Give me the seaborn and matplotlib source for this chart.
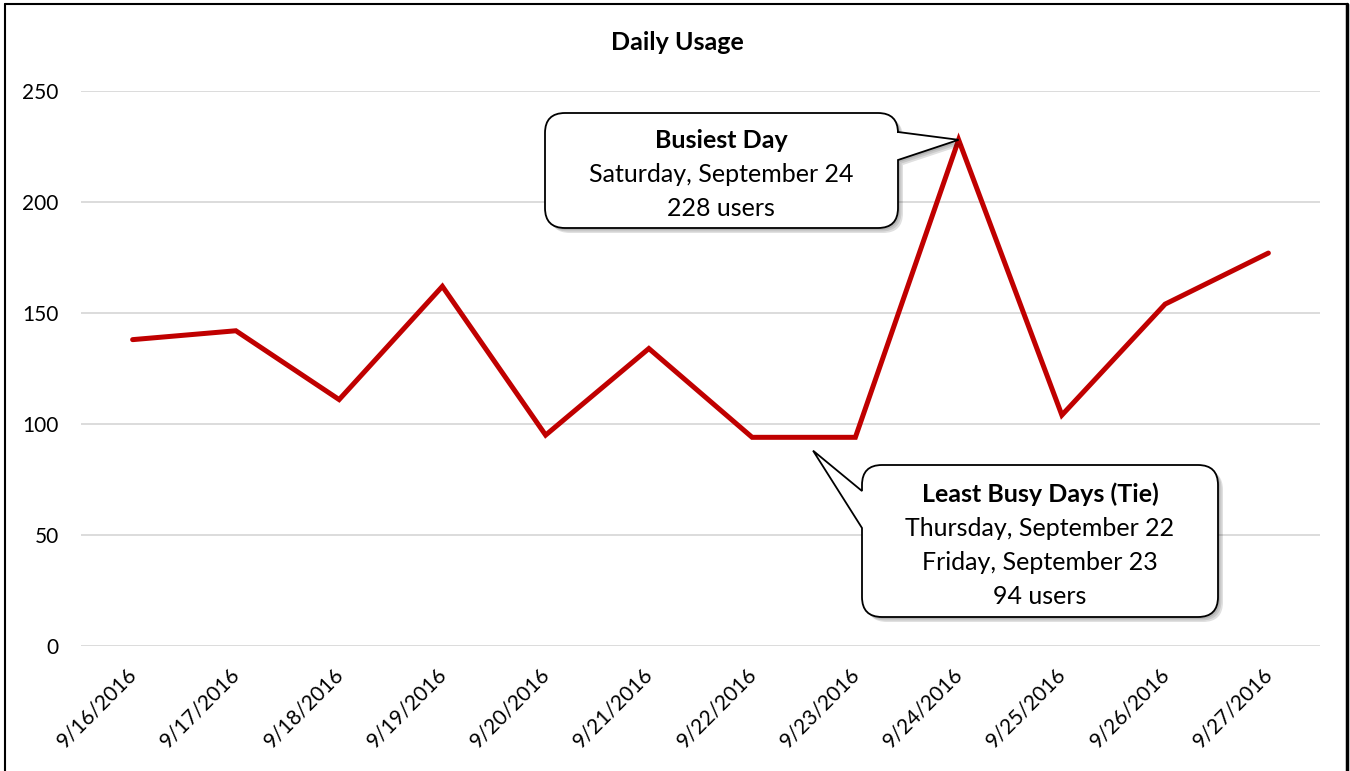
import numpy as np
import pandas as pd
import seaborn as sns
import matplotlib.pyplot as plt
import matplotlib.transforms as mtransforms
from matplotlib.path import Path
from matplotlib.patches import PathPatch
from matplotlib.lines import Line2D

dates = ['9/16/2016', '9/17/2016', '9/18/2016', '9/19/2016', '9/20/2016', '9/21/2016',
         '9/22/2016', '9/23/2016', '9/24/2016', '9/25/2016', '9/26/2016', '9/27/2016']
users = [138, 142, 111, 162, 95, 134, 94, 94, 228, 104, 154, 177]
y_ticks = [0, 50, 100, 150, 200, 250]

busiest_lines = ['Busiest Day', 'Saturday, September 24', '228 users']
least_lines = ['Least Busy Days (Tie)', 'Thursday, September 22', 'Friday, September 23', '94 users']

W, H = 1350, 771
sns.set_style('white')
plt.rcParams['font.family'] = ['Lato', 'DejaVu Sans']
plt.rcParams['text.color'] = 'black'
plt.rcParams['xtick.color'] = 'black'
plt.rcParams['ytick.color'] = 'black'

df = pd.DataFrame({'date': dates, 'users': users})
df['pos'] = np.arange(len(df))

fig = plt.figure(figsize=(W / 100, H / 100), dpi=100)
ax = fig.add_axes([81 / W, 1 - 646 / H, (1320 - 81) / W, (646 - 91) / H])

sns.lineplot(data=df, x='pos', y='users', color='#C00000', linewidth=3.6, ax=ax,
             solid_joinstyle='miter', zorder=3)

ax.set_xlim(-0.5, len(df) - 0.5)
ax.set_ylim(0, 250)
ax.set_yticks(y_ticks)
ax.set_xticks(df['pos'])
ax.set_xticklabels(df['date'], rotation=45, ha='right', rotation_mode='anchor')
ax.grid(axis='y', color='#D9D9D9', linewidth=1.3)
ax.set_axisbelow(True)
for s in ax.spines.values():
    s.set_visible(False)
ax.tick_params(axis='y', length=0, pad=16, labelsize=15)
ax.tick_params(axis='x', length=0, pad=8, labelsize=15)
ax.set_xlabel('')
ax.set_ylabel('')

shift = mtransforms.ScaledTranslation(-6 / 100, -7 / 100, fig.dpi_scale_trans)
for lab in ax.get_xticklabels():
    lab.set_transform(lab.get_transform() + shift)

fig.text(677 / W, 1 - 43 / H, 'Daily Usage', ha='center', va='center',
         fontsize=18, fontweight='bold')

fig.canvas.draw()


def callout(left, top, right, bottom, side, wa, wb, tip, r=20):
    # image pixel coords (y down) -> display coords (y up)
    L, R, T, B = left, right, H - top, H - bottom
    wa, wb = H - wa, H - wb
    verts, codes = [], []

    def mv(p):
        verts.append(p); codes.append(Path.MOVETO)

    def ln(p):
        verts.append(p); codes.append(Path.LINETO)

    def cv(c, p):
        verts.extend([c, p]); codes.extend([Path.CURVE3, Path.CURVE3])

    mv((L + r, T))
    ln((R - r, T))
    cv((R, T), (R, T - r))
    if side == 'right':
        ln((R, wa)); ln(tip); ln((R, wb))
    ln((R, B + r))
    cv((R, B), (R - r, B))
    ln((L + r, B))
    cv((L, B), (L, B + r))
    if side == 'left':
        ln((L, wb)); ln(tip); ln((L, wa))
    ln((L, T - r))
    cv((L, T), (L + r, T))
    codes.append(Path.CLOSEPOLY); verts.append((L + r, T))
    path = Path(verts, codes)
    for i, a in enumerate([0.10, 0.10, 0.12]):
        off = 2 + i * 1.5
        sh = Path(np.array(verts) + np.array([off, -off]), codes)
        fig.patches.append(PathPatch(sh, facecolor='black', edgecolor='none', alpha=a,
                                     transform=None, zorder=5))
    fig.patches.append(PathPatch(path, facecolor='white', edgecolor='black', linewidth=1.3,
                                 transform=None, zorder=6))


tip1 = ax.transData.transform((8, users[8]))
tip2 = ax.transData.transform((6.59, 88))
callout(545, 113, 898, 228, 'right', 132, 160, tuple(tip1))
callout(862, 465, 1218, 617, 'left', 491, 528, tuple(tip2))


def box_text(lines, cx, y0, step=34):
    for i, t in enumerate(lines):
        fig.text(cx / W, 1 - (y0 + i * step) / H, t, ha='center', va='center',
                 fontsize=18, fontweight='bold' if i == 0 else 'normal', zorder=7)


box_text(busiest_lines, 721, 140)
box_text(least_lines, 1040, 494)

# outer frame (left, top, right)
fig.add_artist(Line2D([5 / W, 5 / W], [0, 1 - 4 / H], transform=fig.transFigure, color='black', lw=1.5))
fig.add_artist(Line2D([5 / W, 1347 / W], [1 - 4 / H, 1 - 4 / H], transform=fig.transFigure, color='black', lw=1.5))
fig.add_artist(Line2D([1347 / W, 1347 / W], [0, 1 - 4 / H], transform=fig.transFigure, color='black', lw=2.5))

fig.savefig('out.png', dpi=100)
